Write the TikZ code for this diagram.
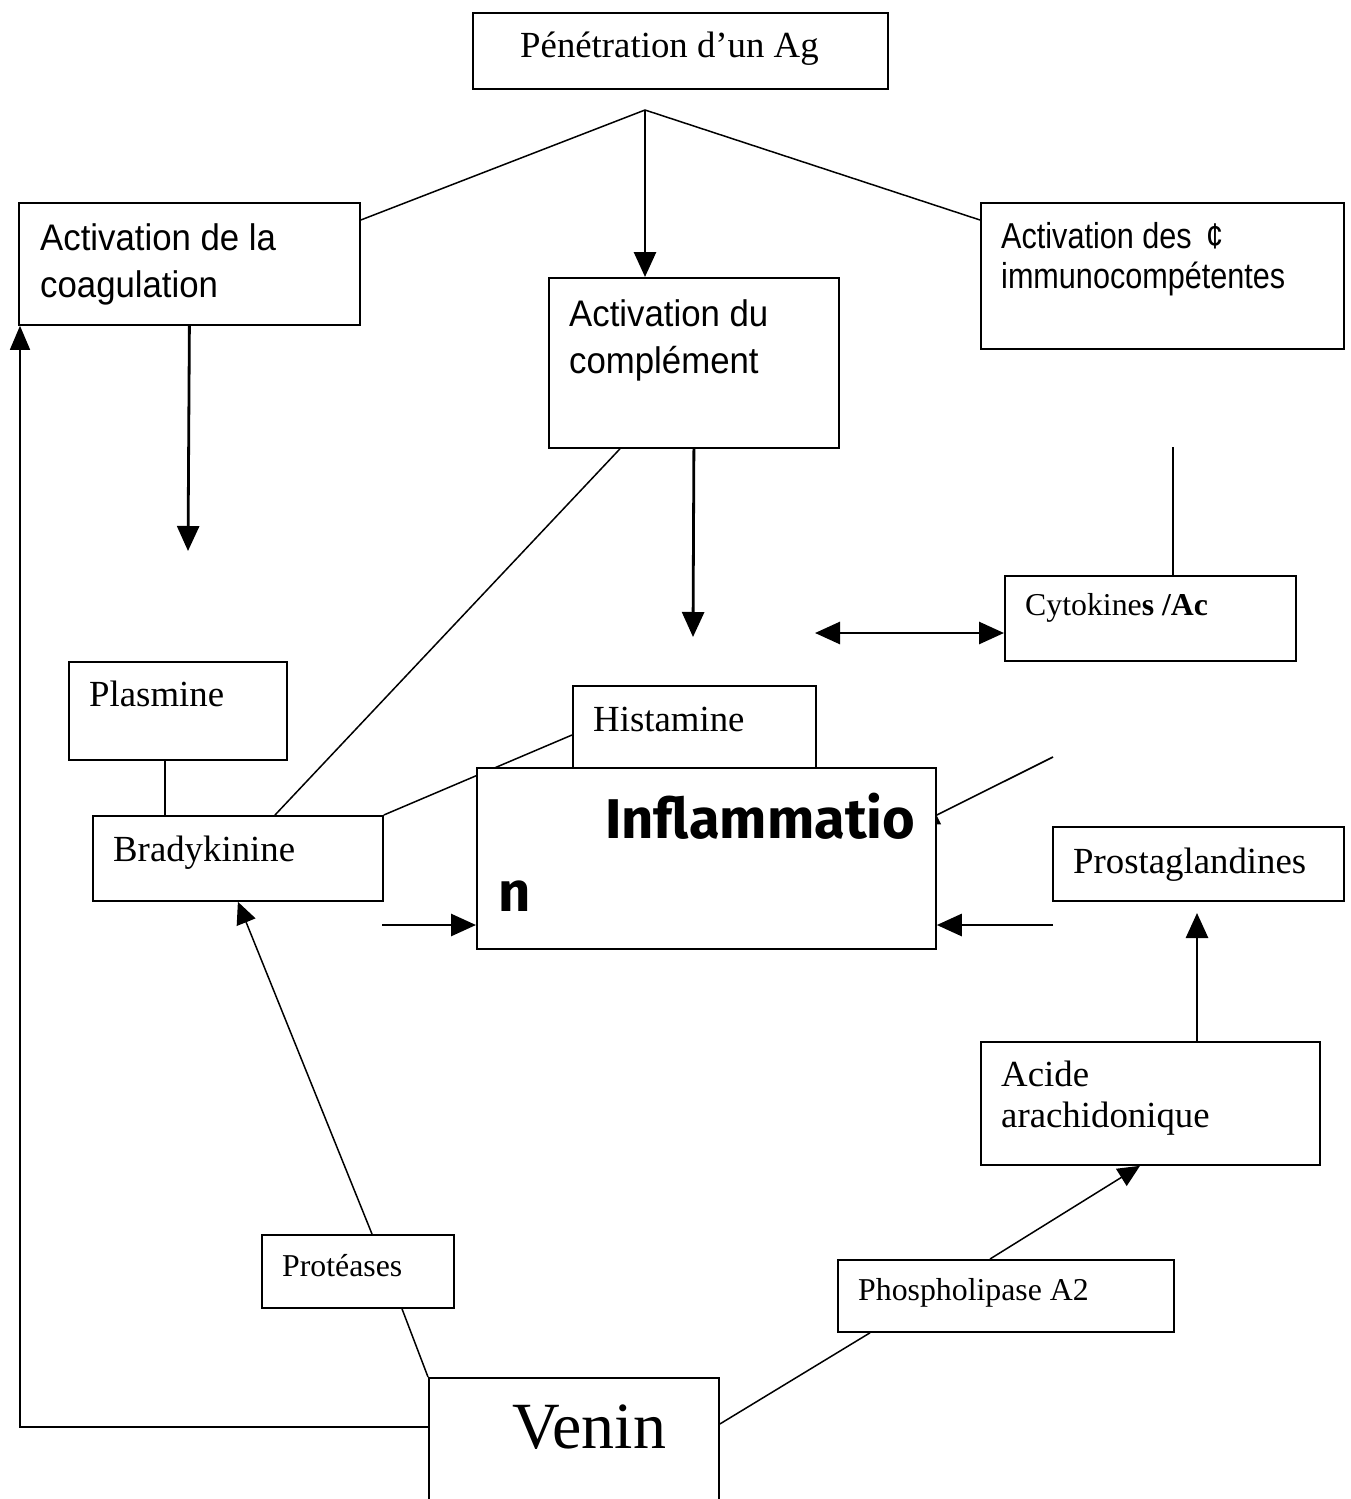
\documentclass[tikz,border=0pt]{standalone}
\usepackage{fontspec}
\setmainfont{Liberation Serif}
\newfontfamily\arialf[FakeStretch=0.94]{Liberation Sans}
\newfontfamily\arialn[FakeStretch=0.85]{Liberation Sans}
\newfontfamily\comicf{Fira Sans}
\usetikzlibrary{arrows.meta,calc}
\pgfdeclarelayer{bg}
\pgfsetlayers{bg,main}
\begin{document}
\begin{tikzpicture}[x=1pt,y=-1pt,
  box/.style={draw, line width=1.8pt, inner sep=0pt, anchor=north west, fill=white},
  ln/.style={line width=1.5pt},
  arr/.style={line width=2.8pt, -{Triangle[length=25pt,width=22pt]}},
  arrb/.style={line width=2.8pt, {Triangle[length=25pt,width=22pt]}-{Triangle[length=25pt,width=22pt]}},
  tms/.style={anchor=base west, inner sep=0pt, font=\fontsize{36.8}{40}\selectfont},
  tmss/.style={anchor=base west, inner sep=0pt, font=\fontsize{31.8}{36}\selectfont},
  ari/.style={anchor=base west, inner sep=0pt, font=\arialf\fontsize{37}{44}\selectfont},
  arin/.style={anchor=base west, inner sep=0pt, font=\arialn\fontsize{36}{44}\selectfont},
  cmc/.style={anchor=base west, inner sep=0pt, font=\comicf\bfseries\fontsize{56}{60}\selectfont},
]
\useasboundingbox (0,0) rectangle (1351,1499);

% boxes
\node[box, minimum width=415pt, minimum height=76pt] (pen) at (472,12) {};
\node[box, minimum width=341pt, minimum height=122pt] (coag) at (18,202) {};
\node[box, minimum width=290pt, minimum height=170pt] (compl) at (548,277) {};
\node[box, minimum width=363pt, minimum height=146pt] (imm) at (980,202) {};
\node[box, minimum width=291pt, minimum height=85pt] (cyto) at (1004,575) {};
\node[box, minimum width=218pt, minimum height=98pt] (plas) at (68,661) {};
\node[box, minimum width=243pt, minimum height=110pt] (hist) at (572,685) {};
\node[box, minimum width=459pt, minimum height=181pt] (infl) at (476,767) {};
\node[box, minimum width=290pt, minimum height=85pt] (brady) at (92,815) {};
\node[box, minimum width=291pt, minimum height=74pt] (prosta) at (1052,826) {};
\node[box, minimum width=339pt, minimum height=123pt] (acide) at (980,1041) {};
\node[box, minimum width=192pt, minimum height=73pt] (prot) at (261,1234) {};
\node[box, minimum width=336pt, minimum height=72pt] (phos) at (837,1259) {};
\node[box, minimum width=290pt, minimum height=140pt] (venin) at (428,1377) {};

% texts
\node[tms] (pen-t) at (520,57) {Pénétration d’un Ag};
\node[ari] (coag-t1) at (40,250) {Activation de la};
\node[ari] (coag-t2) at (40,297) {coagulation};
\node[ari] (compl-t1) at (569,326) {Activation du};
\node[ari] (compl-t2) at (569,373) {complément};
\node[arin] (imm-t1) at (1001,248) {Activation des \,¢};
\node[arin] (imm-t2) at (1001,288) {immunocompétentes};
\node[tmss] (cyto-t) at (1025,615) {Cytokine\textbf{s /Ac}};
\node[tms] (plas-t) at (89,706) {Plasmine};
\node[tms] (hist-t) at (593,731) {Histamine};
\node[tms] (brady-t) at (113,861) {Bradykinine};
\node[tms] (prosta-t) at (1073,873) {Prostaglandines};
\node[tms] (acide-t1) at (1001,1086) {Acide};
\node[tms] (acide-t2) at (1001,1127) {arachidonique};
\node[tmss] (prot-t) at (282,1276) {Protéases};
\node[tmss] (phos-t) at (858,1300) {Phospholipase A2};
\node[anchor=base west, inner sep=0pt, font=\fontsize{66}{70}\selectfont] (venin-t) at (512,1448) {Venin};
\node[cmc] (infl-t1) at (605,838) {Inflammatio};
\node[cmc] (infl-t2) at (498,911) {n};

% free ends
\coordinate (J) at (645,110);
\coordinate (c1) at (188,551);
\coordinate (c2) at (693,637);
\coordinate (c3) at (1173,447);
\coordinate (c4) at (815,633);
\coordinate (c5) at (693,757);
\coordinate (c6) at (1053,757);
\coordinate (c7) at (382,925);
\coordinate (c8) at (1053,925);
\coordinate (c9) at (1197,913);

\begin{pgfonlayer}{bg}
\draw[ln] (J) -- ($(coag.north east)+(0,18)$);
\draw[ln] (J) -- ($(imm.north west)+(0,18)$);
\draw[arr] (J) -- (J |- compl.north);
\draw[arr] (coag.south) -- (c1);
\draw[arr] (compl.south) -- (c2);
\draw[ln] ($(compl.south west)+(72,0)$) -- ($(brady.north west)+(183,0)$);
\draw[line width=2.6pt] (c3) -- (c3 |- cyto.north);
\draw[arrb] (c4) -- (c4 -| cyto.west);
\draw[ln] ($(plas.south west)+(97,0)$) -- ($(brady.north west)+(73,0)$);
\draw[ln] (brady.north east) -- ($(hist.north west)+(0,50)$);
\draw[ln] (c5) -- (c5 |- infl.north);
\draw[line width=1.6pt, -{Triangle[length=22pt,width=20pt]}] (c6) -- ($(infl.north east)+(-20,58)$);
\draw[arr] (c7) -- (c7 -| infl.west);
\draw[arr] (c8) -- (c8 -| infl.east);
\draw[arr] ($(acide.north west)+(217,0)$) -- (c9);
\draw[ln, -{Triangle[length=22pt,width=20pt]}] ($(phos.north west)+(153,0)$) -- ($(acide.south west)+(160,0)$);
\draw[ln] ($(venin.north east)+(0,47)$) -- ($(phos.south west)+(33,0)$);
\draw[ln] (venin.north west) -- ($(prot.south west)+(141,0)$);
\draw[ln, -{Triangle[length=22pt,width=20pt]}] ($(prot.north west)+(111,0)$) -- (brady.south);
\draw[ln, -{Triangle[length=24pt,width=20pt]}] ($(venin.north west)+(0,50)$) -| ($(coag.south west)+(2,0)$);
\end{pgfonlayer}
\end{tikzpicture}
\end{document}
